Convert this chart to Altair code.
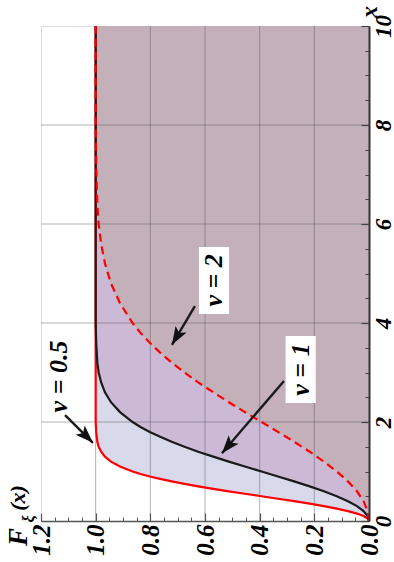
import math
import altair as alt
import pandas as pd

# ---- distribution functions F_xi(x) for nu = 0.5, 1, 2 ----
x_05 = [0, 0.05, 0.10, 0.15, 0.20, 0.25, 0.30, 0.35, 0.40, 0.45, 0.50, 0.55, 0.60,
        0.65, 0.70, 0.75, 0.80, 0.85, 0.90, 0.95, 1.00, 1.1, 1.2, 1.3, 1.4, 1.5,
        1.6, 1.8, 2.0, 10]
F_05 = [0, 0.005, 0.020, 0.044, 0.077, 0.118, 0.165, 0.217, 0.274, 0.333, 0.393,
        0.454, 0.513, 0.570, 0.625, 0.675, 0.722, 0.764, 0.802, 0.836, 0.865, 0.911,
        0.944, 0.966, 0.980, 0.989, 0.994, 0.998, 1.0, 1.0]

x_1 = [0, 0.1, 0.2, 0.3, 0.4, 0.5, 0.6, 0.7, 0.8, 0.9, 1.0, 1.1, 1.2, 1.3, 1.4, 1.5,
       1.6, 1.7, 1.8, 1.9, 2.0, 2.2, 2.4, 2.6, 2.8, 3.0, 3.2, 3.6, 4.0, 10]
F_1 = [0, 0.005, 0.020, 0.044, 0.077, 0.118, 0.165, 0.217, 0.274, 0.333, 0.393,
       0.454, 0.513, 0.570, 0.625, 0.675, 0.722, 0.764, 0.802, 0.836, 0.865, 0.911,
       0.944, 0.966, 0.980, 0.989, 0.994, 0.998, 1.0, 1.0]

x_2 = [0, 0.2, 0.4, 0.6, 0.8, 1.0, 1.2, 1.4, 1.6, 1.8, 2.0, 2.2, 2.4, 2.6, 2.8, 3.0,
       3.2, 3.4, 3.6, 3.8, 4.0, 4.4, 4.8, 5.2, 5.6, 6.0, 6.4, 7.2, 8.0, 10]
F_2 = [0, 0.005, 0.020, 0.044, 0.077, 0.118, 0.165, 0.217, 0.274, 0.333, 0.393,
       0.454, 0.513, 0.570, 0.625, 0.675, 0.722, 0.764, 0.802, 0.836, 0.865, 0.911,
       0.944, 0.966, 0.980, 0.989, 0.994, 0.998, 1.0, 1.0]

# ---- axes: ticks and grid ----
F_major = [0.0, 0.2, 0.4, 0.6, 0.8, 1.0, 1.2]
F_minor = [round(0.05 * i, 2) for i in range(25)]
x_major = [0, 2, 4, 6, 8, 10]
x_minor = [0.5 * i for i in range(21)]
F_grid = [0.2, 0.4, 0.6, 0.8, 1.0]
x_grid = [2, 4, 6, 8]

# ---- annotations ----
ann_text = ["\u03bd = 0.5", "\u03bd = 1", "\u03bd = 2"]
ann_F = [1.134, 0.250, 0.567]
ann_x = [2.92, 3.06, 4.86]
ann_box = [False, True, True]
tail_F = [1.112, 0.311, 0.637]
tail_x = [2.14, 2.83, 4.34]
tip_F = [1.010, 0.538, 0.721]
tip_x = [1.58, 1.37, 3.56]

W, H = 328, 495
F_MAX, X_MAX = 1.2, 10.0
SERIF = "Liberation Serif"

xs = alt.Scale(domain=[0, F_MAX], reverse=True, nice=False, zero=False)
ys = alt.Scale(domain=[0, X_MAX], nice=False, zero=False)

lab = dict(labelFont=SERIF, labelFontStyle="italic", labelFontWeight="bold",
           labelColor="black", labelOverlap=False, labelFlush=False)

ax_F_main = alt.Axis(orient="bottom", values=F_major, format=".1f", labelAngle=270,
                     labelAlign="right", labelBaseline="middle", labelPadding=3,
                     labelFontSize=25, ticks=False, tickSize=0, domain=True,
                     domainColor="#555555", domainWidth=1.5, grid=False, title=None,
                     zindex=2, **lab)
ax_F_major = alt.Axis(orient="bottom", values=F_major, offset=-8, tickSize=8,
                      tickColor="#555555", tickWidth=1.2, labels=False, domain=False,
                      grid=False, title=None, zindex=2)
ax_F_minor = alt.Axis(orient="bottom", values=F_minor, offset=-4, tickSize=4,
                      tickColor="#555555", tickWidth=1, labels=False, domain=False,
                      grid=False, title=None, zindex=2)

ax_x_main = alt.Axis(orient="right", values=x_major, format="d", labelAngle=270,
                     labelAlign="center", labelBaseline="top", labelPadding=3,
                     labelFontSize=23, ticks=False, tickSize=0, domain=True,
                     domainColor="#333333", domainWidth=2, grid=False, title=None,
                     zindex=2, **lab)
ax_x_major = alt.Axis(orient="right", values=x_major, offset=-8, tickSize=8,
                      tickColor="#444444", tickWidth=1.2, labels=False, domain=False,
                      grid=False, title=None, zindex=2)
ax_x_minor = alt.Axis(orient="right", values=x_minor, offset=-4, tickSize=4,
                      tickColor="#444444", tickWidth=1, labels=False, domain=False,
                      grid=False, title=None, zindex=2)


def curve_df(xv, fv):
    return pd.DataFrame({"x": xv, "F": fv})


d05, d1, d2 = curve_df(x_05, F_05), curve_df(x_1, F_1), curve_df(x_2, F_2)


def area(df, color, axF, axX):
    return alt.Chart(df).mark_area(orient="horizontal", color=color, opacity=1).encode(
        y=alt.Y("x:Q", scale=ys, axis=axX),
        x=alt.X("F:Q", scale=xs, axis=axF),
        x2=alt.datum(0),
    )


a05 = area(d05, "#d9d9ec", ax_F_main, ax_x_main)
a1 = area(d1, "#cbb9d6", ax_F_major, ax_x_major)
a2 = area(d2, "#c4b0b8", ax_F_minor, ax_x_minor)

grid_v = alt.Chart(pd.DataFrame({"F": F_grid})).mark_rule(
    color="#555555", opacity=0.45, strokeWidth=1).encode(
    x=alt.X("F:Q", scale=xs, axis=None))
grid_h = alt.Chart(pd.DataFrame({"x": x_grid})).mark_rule(
    color="#555555", opacity=0.45, strokeWidth=1).encode(
    y=alt.Y("x:Q", scale=ys, axis=None))


def line(df, color, dash=None):
    kw = dict(color=color, strokeWidth=2.2)
    if dash:
        kw["strokeDash"] = dash
    return alt.Chart(df).mark_line(**kw).encode(
        x=alt.X("F:Q", scale=xs, axis=None),
        y=alt.Y("x:Q", scale=ys, axis=None),
        order=alt.Order("x:Q"),
    )


l05 = line(d05, "#ff0000")
l1 = line(d1, "#1a1a1a")
l2 = line(d2, "#ff0000", [8, 5])

# arrow geometry: heads rotated along each shaft (screen direction)
px_F = W / F_MAX
px_x = H / X_MAX
angles = []
for tf, tx, hf, hx in zip(tail_F, tail_x, tip_F, tip_x):
    dx = -(hf - tf) * px_F
    dy = -(hx - tx) * px_x
    angles.append(math.degrees(math.atan2(dx, -dy)) % 360)

arr = pd.DataFrame({"tF": tail_F, "tx": tail_x, "hF": tip_F, "hx": tip_x, "ang": angles})

shafts = alt.Chart(arr).mark_rule(color="#1a1a1a", strokeWidth=2.4).encode(
    x=alt.X("tF:Q", scale=xs, axis=None), x2="hF:Q",
    y=alt.Y("tx:Q", scale=ys, axis=None), y2="hx:Q")

heads = alt.Chart(arr).mark_point(
    shape="M0,0 L0.72,2 L0,1.55 L-0.72,2 Z", filled=True, color="#111111",
    opacity=1, size=324, strokeWidth=0).encode(
    x=alt.X("hF:Q", scale=xs, axis=None),
    y=alt.Y("hx:Q", scale=ys, axis=None),
    angle=alt.Angle("ang:Q", scale=None))

ann = pd.DataFrame({"t": ann_text, "F": ann_F, "x": ann_x, "box": ann_box})

boxes = alt.Chart(ann).transform_filter("datum.box").mark_point(
    shape="M-0.45,-1 L0.45,-1 L0.45,1 L-0.45,1 Z", filled=True, color="white",
    opacity=1, size=4489, strokeWidth=0).encode(
    x=alt.X("F:Q", scale=xs, axis=None),
    y=alt.Y("x:Q", scale=ys, axis=None))

labels = alt.Chart(ann).mark_text(
    font=SERIF, fontSize=26, fontStyle="italic", fontWeight="bold", color="black",
    angle=270, align="center", baseline="middle").encode(
    x=alt.X("F:Q", scale=xs, axis=None),
    y=alt.Y("x:Q", scale=ys, axis=None),
    text="t:N")

# axis titles, placed beside the end labels
one = pd.DataFrame({"k": [0]})
tstyle = dict(font=SERIF, fontStyle="italic", fontWeight="bold", color="black",
              angle=270, align="center", baseline="middle")
t_F = alt.Chart(one).mark_text(fontSize=27, **tstyle).encode(
    x=alt.value(-22), y=alt.value(511), text=alt.value("F"))
t_xi = alt.Chart(one).mark_text(fontSize=16, **tstyle).encode(
    x=alt.value(-12), y=alt.value(493), text=alt.value("\u03be"))
t_paren = alt.Chart(one).mark_text(fontSize=22, **tstyle).encode(
    x=alt.value(-23), y=alt.value(472), text=alt.value("(x)"))
t_x = alt.Chart(one).mark_text(fontSize=24, **tstyle).encode(
    x=alt.value(329), y=alt.value(-14), text=alt.value("x"))

chart = alt.layer(
    a05, a1, a2, grid_v, grid_h, l05, l1, l2, shafts, heads, boxes, labels,
    t_F, t_xi, t_paren, t_x,
).resolve_axis(x="independent", y="independent").properties(
    width=W, height=H,
    autosize=alt.AutoSizeParams(type="none"),
    padding={"left": 41, "top": 26, "right": 25, "bottom": 41},
).configure_view(stroke="#a8a8a8", strokeWidth=2).configure(background="white")

chart.save("out.html", embed_options={"renderer": "svg", "actions": False})
